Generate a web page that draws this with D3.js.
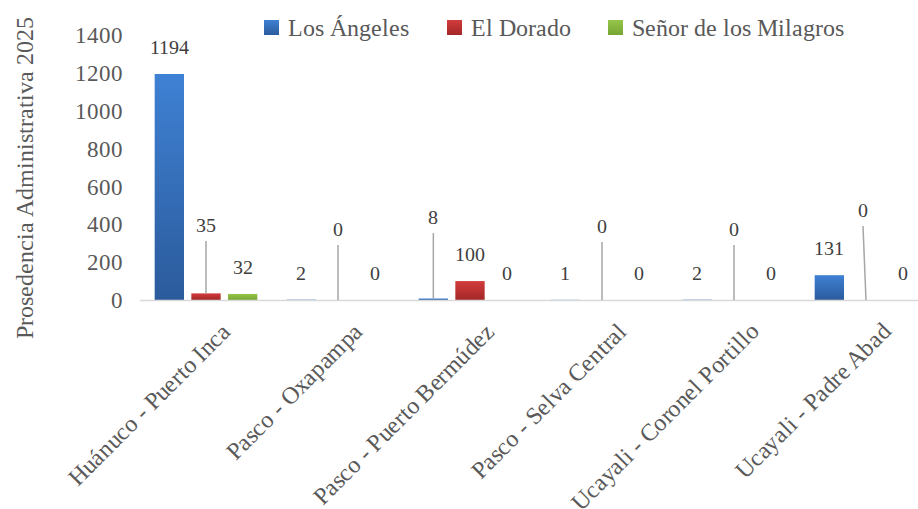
<!DOCTYPE html>
<html>
<head>
<meta charset="utf-8">
<script src="https://cdn.jsdelivr.net/npm/d3@7"></script>
<style>
  @font-face {
    font-family: "ChartSerif";
    src: local("Liberation Serif"), local("LiberationSerif"), local("LiberationSerif-Regular"), local("Times New Roman");
  }
  body { margin: 0; }
  text { font-family: "ChartSerif", "Liberation Serif", "Times New Roman", serif; }
</style>
</head>
<body>
<div id="chart"></div>
<script>
// data
const categories = [
  "Huánuco - Puerto Inca",
  "Pasco - Oxapampa",
  "Pasco - Puerto Bermúdez",
  "Pasco - Selva Central",
  "Ucayali - Coronel Portillo",
  "Ucayali - Padre Abad"
];
const seriesNames = ["Los Ángeles", "El Dorado", "Señor de los Milagros"];
const losAngeles = [1194, 2, 8, 1, 2, 131];
const elDorado = [35, 0, 100, 0, 0, 0];
const senorMilagros = [32, 0, 0, 0, 0, 0];
const yTicks = [0, 200, 400, 600, 800, 1000, 1200, 1400];

// labels that were pulled up with a leader line: [category, series, px above baseline]
const calloutLift = [[0, 1, 75], [1, 1, 71], [2, 0, 83], [3, 1, 74], [4, 1, 71], [5, 1, 90]];
// legend item left edges
const legendX = [264, 447, 608];

const svgWidth = 918;
const svgHeight = 509;
const baseY = 300;
const serif = "ChartSerif, 'Liberation Serif', 'Times New Roman', serif";

const seriesValues = [losAngeles, elDorado, senorMilagros];
const colors = [
  ["#3f81d4", "#2b5b9c"],
  ["#d23c3c", "#a42727"],
  ["#96c54a", "#76a534"]
];

const svg = d3.select("#chart")
  .append("svg")
  .attr("width", svgWidth)
  .attr("height", svgHeight)
  .attr("font-family", serif);

const defs = svg.append("defs");
colors.forEach((c, i) => {
  const g = defs.append("linearGradient")
    .attr("id", "grad" + i)
    .attr("x1", 0).attr("y1", 0).attr("x2", 0).attr("y2", 1);
  g.append("stop").attr("offset", "0%").attr("stop-color", c[0]);
  g.append("stop").attr("offset", "100%").attr("stop-color", c[1]);
});

// scales
const x0 = d3.scaleBand()
  .domain(categories)
  .range([140, 932]);

const x1 = d3.scaleBand()
  .domain(d3.range(seriesNames.length))
  .range([0, x0.bandwidth()])
  .paddingInner(0.2)
  .paddingOuter(0.4);

const y = d3.scaleLinear()
  .domain([0, 1400])
  .range([baseY, 35]);

// y axis (labels only)
const leftAxis = d3.axisLeft(y).tickValues(yTicks).tickFormat(d3.format("d")).tickSize(0).tickPadding(0);
const yAxisG = svg.append("g")
  .attr("transform", "translate(123,0)")
  .call(leftAxis);
yAxisG.attr("font-family", serif).attr("font-size", 22.5);
yAxisG.select(".domain").remove();
yAxisG.selectAll("text")
  .attr("fill", "#595959")
  .attr("dy", "0.34em");

// bars
const rows = [];
categories.forEach((cat, ci) => {
  seriesValues.forEach((vals, si) => {
    rows.push({ cat: cat, ci: ci, si: si, value: vals[ci] });
  });
});

svg.append("g").selectAll("rect")
  .data(rows)
  .enter()
  .append("rect")
  .attr("x", d => x0(d.cat) + x1(d.si))
  .attr("y", d => y(d.value))
  .attr("width", x1.bandwidth())
  .attr("height", d => baseY - y(d.value))
  .attr("fill", d => `url(#grad${d.si})`);

// x axis line
svg.append("line")
  .attr("x1", 140).attr("x2", svgWidth)
  .attr("y1", baseY + 0.5).attr("y2", baseY + 0.5)
  .attr("stroke", "#d9d9d9")
  .attr("stroke-width", 1.5);

// data labels
const liftOf = d => {
  const c = calloutLift.find(k => k[0] === d.ci && k[1] === d.si);
  return c ? c[2] : null;
};
const labelX = d => x0(d.cat) + x1(d.si) + x1.bandwidth() / 2;

const leaders = rows.filter(d => liftOf(d) !== null);
svg.append("g").selectAll("line")
  .data(leaders)
  .enter()
  .append("line")
  .attr("x1", d => labelX(d) - (d.ci === 5 ? 3 : 0))
  .attr("x2", labelX)
  .attr("y1", d => baseY - liftOf(d) + 16)
  .attr("y2", d => y(d.value))
  .attr("stroke", "#a6a6a6")
  .attr("stroke-width", 1.5);

svg.selectAll("text.value")
  .data(rows)
  .enter()
  .append("text")
  .attr("class", "value")
  .attr("font-size", 20)
  .attr("x", d => labelX(d) - (d.ci === 5 && d.si === 1 ? 3 : 0))
  .attr("y", d => liftOf(d) !== null ? baseY - liftOf(d) : y(d.value) - 27)
  .attr("dy", "0.35em")
  .attr("text-anchor", "middle")
  .attr("fill", "#404040")
  .text(d => d.value);

// category labels
svg.selectAll("text.cat")
  .data(categories)
  .enter()
  .append("text")
  .attr("class", "cat")
  .attr("font-size", 24)
  .attr("transform", d => `translate(${x0(d) + x0.bandwidth() / 2 + 26}, 333) rotate(-45)`)
  .attr("text-anchor", "end")
  .attr("fill", "#595959")
  .text(d => d);

// y axis title
svg.append("text")
  .attr("font-size", 24)
  .attr("transform", "translate(33,178) rotate(-90)")
  .attr("text-anchor", "middle")
  .attr("fill", "#595959")
  .text("Prosedencia Administrativa 2025");

// legend
seriesNames.forEach((name, i) => {
  svg.append("rect")
    .attr("x", legendX[i]).attr("y", 20)
    .attr("width", 15).attr("height", 15)
    .attr("fill", `url(#grad${i})`);
  svg.append("text")
    .attr("font-size", 23.5)
    .attr("x", legendX[i] + 24).attr("y", 36)
    .attr("fill", "#595959")
    .text(name);
});
</script>
</body>
</html>
